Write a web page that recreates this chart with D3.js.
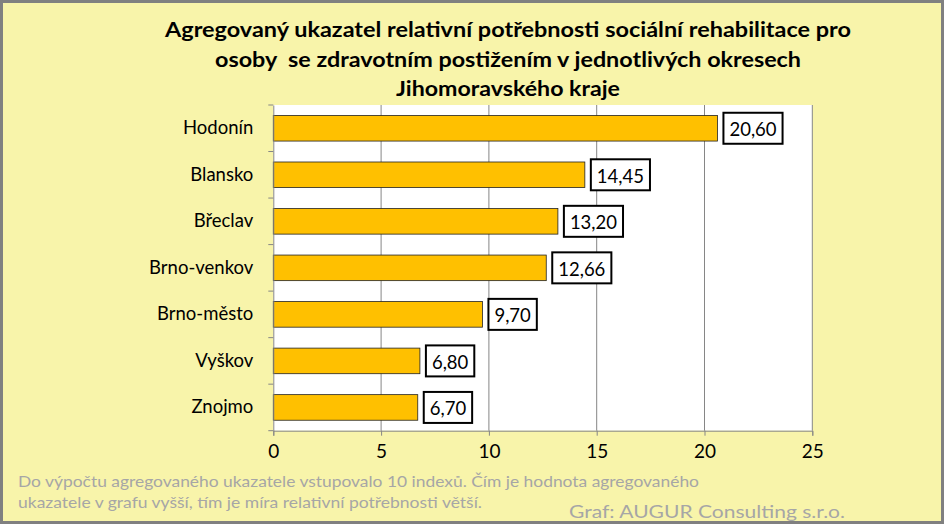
<!DOCTYPE html>
<html><head><meta charset="utf-8">
<script src="https://cdn.jsdelivr.net/npm/d3@7"></script>
<style>html,body{margin:0;padding:0;background:#fff}svg{display:block}text{white-space:pre}</style>
</head><body>
<svg id="c" width="944" height="524"></svg>
<script>
const categories = ["Hodonín","Blansko","Břeclav","Brno-venkov","Brno-město","Vyškov","Znojmo"];
const values = [20.60,14.45,13.20,12.66,9.70,6.80,6.70];
const xTicks = [0,5,10,15,20,25];
const titleLines = ["Agregovaný ukazatel relativní potřebnosti sociální rehabilitace pro","osoby  se zdravotním postižením v jednotlivých okresech","Jihomoravského kraje"];
const noteLines = ["Do výpočtu agregovaného ukazatele vstupovalo 10 indexů. Čím je hodnota agregovaného","ukazatele v grafu vyšší, tím je míra relativní potřebnosti větší."];
const credit = "Graf: AUGUR Consulting s.r.o.";

const W=944,H=524;
const svg=d3.select("#c");
const FONT="Lato, 'Open Sans', sans-serif";
svg.append("rect").attr("x",1.5).attr("y",1.5).attr("width",W-3).attr("height",H-3)
  .attr("fill","#F8F4AA").attr("stroke","#808080").attr("stroke-width",3);

const L=273.3,R=812.3,T=105,B=430.7;
const x=d3.scaleLinear().domain([0,25]).range([L,R]);
const y=d3.scaleBand().domain(categories).range([T,B]).paddingInner(0.45).paddingOuter(0.225);

svg.append("rect").attr("x",L).attr("y",T).attr("width",R-L).attr("height",B-T).attr("fill","#fff");

// gridlines
svg.append("g").selectAll("line").data(xTicks.slice(1)).join("line")
  .attr("x1",d=>x(d)).attr("x2",d=>x(d)).attr("y1",T).attr("y2",B)
  .attr("stroke","#868686").attr("stroke-width",1);

// bars
svg.append("g").selectAll("rect").data(values).join("rect")
  .attr("x",x(0)).attr("y",(d,i)=>y(categories[i]))
  .attr("width",d=>x(d)-x(0)).attr("height",y.bandwidth())
  .attr("fill","#FFC000").attr("stroke","#222").attr("stroke-width",0.8);

// x axis
const xa=svg.append("g").attr("transform",`translate(0,${B})`)
  .call(d3.axisBottom(x).tickValues(xTicks).tickSize(5).tickPadding(9).tickFormat(d3.format("d")));
xa.select(".domain").attr("stroke","#868686");
xa.selectAll(".tick line").attr("stroke","#868686");
xa.selectAll("text").attr("font-family",FONT).attr("font-size",19).attr("fill","#000");

// y axis
const ya=svg.append("g").attr("transform",`translate(${L},0)`)
  .call(d3.axisLeft(y).tickSize(0).tickPadding(20));
ya.select(".domain").attr("stroke","#868686");
ya.selectAll("text").attr("font-family",FONT).attr("font-size",18.5).attr("fill","#000");
const edges=d3.range(categories.length+1).map(i=>T+i*(B-T)/categories.length);
svg.append("g").selectAll("line").data(edges).join("line")
  .attr("x1",L-5).attr("x2",L).attr("y1",d=>d).attr("y2",d=>d)
  .attr("stroke","#868686");

// data labels
const lab=svg.append("g").selectAll("g").data(values).join("g");
lab.each(function(d,i){
  const g=d3.select(this);
  const cy=y(categories[i])+y.bandwidth()/2;
  const t=g.append("text").text(d3.format(".2f")(d).replace(".",","))
    .attr("font-family",FONT).attr("font-size",18.5).attr("dominant-baseline","central")
    .attr("y",cy+1);
  const w=t.node().getComputedTextLength();
  const bx=x(d)+6, bw=w+12, bh=31;
  g.insert("rect","text").attr("x",bx).attr("y",cy-bh/2).attr("width",bw).attr("height",bh)
    .attr("fill","#fff").attr("stroke","#000").attr("stroke-width",2);
  t.attr("x",bx+6);
});

// title
const tW=[686,586,224], tY=[37,67,96];
titleLines.forEach((s,i)=>{
  svg.append("text").text(s).attr("x",508).attr("y",tY[i]).attr("text-anchor","middle")
    .attr("xml:space","preserve")
    .attr("font-family",FONT).attr("font-weight","bold").attr("font-size",21)
    .attr("textLength",tW[i]).attr("lengthAdjust","spacingAndGlyphs").attr("fill","#000");
});

// notes
const nW=[681,464], nY=[487,508];
noteLines.forEach((s,i)=>{
  svg.append("text").text(s).attr("x",18).attr("y",nY[i])
    .attr("font-family",FONT).attr("font-size",16).attr("fill","#A6A6A6")
    .attr("textLength",nW[i]).attr("lengthAdjust","spacingAndGlyphs");
});
svg.append("text").text(credit).attr("x",569).attr("y",518)
  .attr("font-family",FONT).attr("font-size",18).attr("fill","#A6A6A6")
  .attr("textLength",276).attr("lengthAdjust","spacingAndGlyphs");
svg.append("rect").attr("x",1.5).attr("y",1.5).attr("width",W-3).attr("height",H-3)
  .attr("fill","none").attr("stroke","#808080").attr("stroke-width",3);
</script>
</body></html>
